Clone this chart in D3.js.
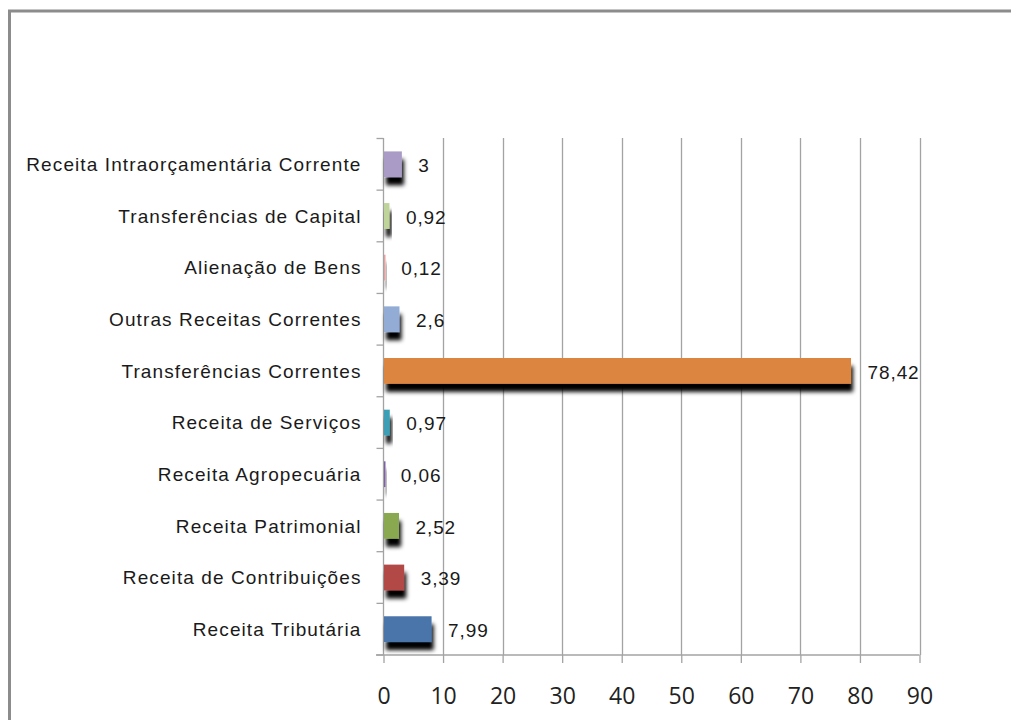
<!DOCTYPE html>
<html>
<head>
<meta charset="utf-8">
<script src="https://cdn.jsdelivr.net/npm/d3@7"></script>
<style>
  html, body { margin: 0; padding: 0; background: #fff; }
  svg { display: block; }
</style>
</head>
<body>
<svg id="chart" width="1011" height="720"></svg>
<script>
const categories = [
  "Receita Intraorçamentária Corrente",
  "Transferências de Capital",
  "Alienação de Bens",
  "Outras Receitas Correntes",
  "Transferências Correntes",
  "Receita de Serviços",
  "Receita Agropecuária",
  "Receita Patrimonial",
  "Receita de Contribuições",
  "Receita Tributária"
];
const values = [3, 0.92, 0.12, 2.6, 78.42, 0.97, 0.06, 2.52, 3.39, 7.99];
const valueLabels = ["3", "0,92", "0,12", "2,6", "78,42", "0,97", "0,06", "2,52", "3,39", "7,99"];
const barColors = ["#a99bc5", "#bfd49a", "#e4a2a0", "#93acd6", "#dc8540", "#3e9fb6", "#7c62a2", "#8aa84f", "#b34846", "#4a75ab"];
const xTicks = [0, 10, 20, 30, 40, 50, 60, 70, 80, 90];

const svg = d3.select("#chart");

// outer border
svg.append("rect")
  .attr("x", 9.5).attr("y", 11)
  .attr("width", 1100).attr("height", 800)
  .attr("fill", "none").attr("stroke", "#8c8c8c").attr("stroke-width", 3);

const defs = svg.append("defs");
const f = defs.append("filter").attr("id", "shadow")
  .attr("x", "-20%").attr("y", "-30%").attr("width", "160%").attr("height", "180%");
f.append("feGaussianBlur").attr("in", "SourceAlpha").attr("stdDeviation", 2.3).attr("result", "b");
f.append("feOffset").attr("in", "b").attr("dx", 1.5).attr("dy", 7.5).attr("result", "o");
const m = f.append("feMerge");
m.append("feMergeNode").attr("in", "o");
m.append("feMergeNode").attr("in", "SourceGraphic");

const x = d3.scaleLinear().domain([0, 90]).range([383.5, 919.5]);
const y = d3.scaleBand().domain(categories).range([138.5, 655]).paddingInner(0.5).paddingOuter(0.25);

const gridColor = "#a3a3a3";
const labelFont = "'Liberation Sans', Arial, sans-serif";

// vertical gridlines
svg.append("g").selectAll("line").data(xTicks.filter(d => d > 0)).join("line")
  .attr("x1", d => Math.round(x(d)) + 0.5).attr("x2", d => Math.round(x(d)) + 0.5)
  .attr("y1", 138).attr("y2", 655)
  .attr("stroke", gridColor).attr("stroke-width", 1.3);

// x axis
const xAxis = svg.append("g").attr("transform", "translate(0,655)")
  .call(d3.axisBottom(x).tickValues(xTicks).tickSize(8).tickPadding(25).tickFormat(d3.format("d")));
xAxis.select(".domain").remove();
xAxis.append("line").attr("x1", 376).attr("x2", 919.5).attr("y1", 0).attr("y2", 0)
  .attr("stroke", gridColor).attr("stroke-width", 1.3);
xAxis.selectAll(".tick line").attr("stroke", gridColor).attr("stroke-width", 1.3);
xAxis.selectAll(".tick text")
  .attr("font-family", "'Open Sans', 'Noto Sans', sans-serif")
  .attr("font-size", 23).attr("fill", "#222");

// y axis
const yAxis = svg.append("g").attr("transform", "translate(383.5,0)")
  .call(d3.axisLeft(y).tickSize(0).tickPadding(22));
yAxis.select(".domain").remove();
yAxis.append("line").attr("x1", 0).attr("x2", 0).attr("y1", 138).attr("y2", 655)
  .attr("stroke", gridColor).attr("stroke-width", 1.3);
const step = y.step();
const boundaries = d3.range(categories.length + 1).map(i => 138.5 + i * step);
yAxis.selectAll(".cattick").data(boundaries).join("line").attr("class", "cattick")
  .attr("x1", -7).attr("x2", 0).attr("y1", d => d).attr("y2", d => d)
  .attr("stroke", gridColor).attr("stroke-width", 1.3);
yAxis.selectAll(".tick text")
  .attr("font-family", labelFont)
  .attr("font-size", 19).attr("letter-spacing", "1.1px").attr("fill", "#1a1a1a").attr("dy", "0.36em");

// bars
svg.append("g").selectAll("rect").data(categories).join("rect")
  .attr("x", x(0) + 0.5)
  .attr("y", d => y(d))
  .attr("width", (d, i) => Math.max(x(values[i]) - x(0), 1.5))
  .attr("height", y.bandwidth())
  .attr("fill", (d, i) => barColors[i])
  .attr("filter", "url(#shadow)");

// value labels
svg.append("g").selectAll("text").data(categories).join("text")
  .attr("x", (d, i) => x(values[i]) + 17)
  .attr("y", d => y(d) + y.bandwidth() / 2 + 1)
  .attr("dy", "0.36em")
  .attr("font-family", labelFont)
  .attr("font-size", 19).attr("letter-spacing", "0.9px").attr("fill", "#1a1a1a")
  .text((d, i) => valueLabels[i]);
</script>
</body>
</html>
